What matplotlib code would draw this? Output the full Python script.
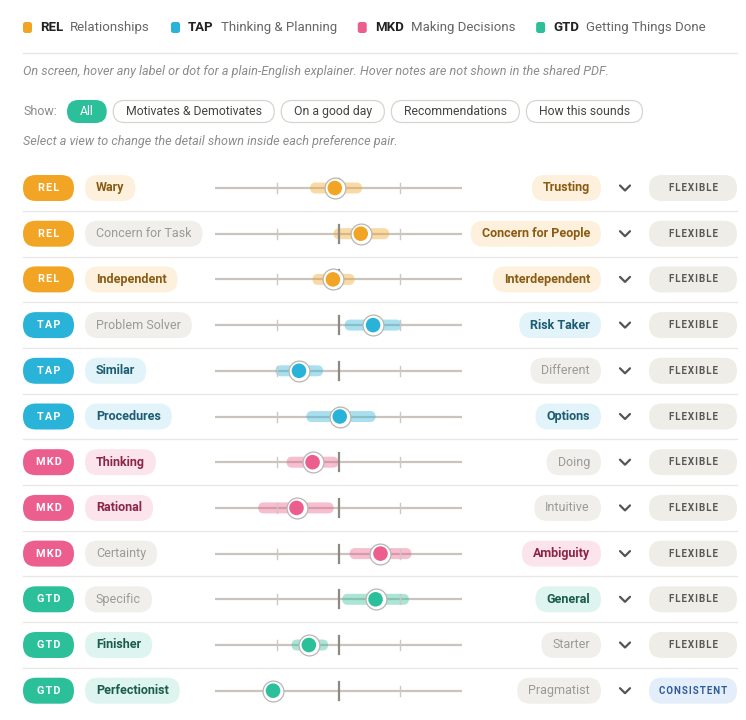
import matplotlib

matplotlib.use("Agg")
import matplotlib.pyplot as plt
from matplotlib.patches import FancyBboxPatch

plt.rcParams["font.family"] = ["Roboto", "DejaVu Sans"]

# --- data ------------------------------------------------------------------------------
group_codes = ["REL", "TAP", "MKD", "GTD"]
group_names = ["Relationships", "Thinking & Planning", "Making Decisions", "Getting Things Done"]
view_options = ["All", "Motivates & Demotivates", "On a good day", "Recommendations", "How this sounds"]

row_groups = ["REL", "REL", "REL", "TAP", "TAP", "TAP", "MKD", "MKD", "MKD", "GTD", "GTD", "GTD"]
left_labels = ["Wary", "Concern for Task", "Independent", "Problem Solver", "Similar", "Procedures",
               "Thinking", "Rational", "Certainty", "Specific", "Finisher", "Perfectionist"]
right_labels = ["Trusting", "Concern for People", "Interdependent", "Risk Taker", "Different", "Options",
                "Doing", "Intuitive", "Ambiguity", "General", "Starter", "Pragmatist"]
# position on the -1 (left pole) .. +1 (right pole) scale, and the flex range around it
scores = [-0.03, 0.18, -0.045, 0.28, -0.32, 0.01, -0.21, -0.34, 0.34, 0.30, -0.24, -0.53]
range_low = [-0.23, -0.04, -0.21, 0.05, -0.51, -0.26, -0.42, -0.65, 0.09, 0.03, -0.38, None]
range_high = [0.19, 0.41, 0.13, 0.51, -0.125, 0.30, 0.0, -0.04, 0.59, 0.57, -0.085, None]
styles = ["FLEXIBLE"] * 11 + ["CONSISTENT"]

# --- look ------------------------------------------------------------------------------
COL = {"REL": "#F2A424", "TAP": "#2AB3D8", "MKD": "#EC5E8D", "GTD": "#2CC09A"}
LIGHT = {"REL": "#FDF1DE", "TAP": "#E2F4FA", "MKD": "#FCE4EC", "GTD": "#DEF5EF"}
DARK = {"REL": "#8A5B12", "TAP": "#1D5C72", "MKD": "#8C2549", "GTD": "#1B5C4B"}
GREY_BG, GREY_TXT = "#F0EFEB", "#9C9A96"
LINE = "#E9E7E3"

W, H = 746, 720
fig = plt.figure(figsize=(W / 100, H / 100), dpi=100)
ax = fig.add_axes([0, 0, 1, 1])
ax.set_xlim(0, W)
ax.set_ylim(H, 0)
ax.axis("off")
renderer = fig.canvas.get_renderer()


def pill(x0, yc, w, h, fc, ec="none", lw=0, z=2):
    ax.add_patch(FancyBboxPatch((x0, yc - h / 2), w, h, boxstyle=f"round,pad=0,rounding_size={h / 2}",
                                fc=fc, ec=ec, lw=lw, zorder=z))


def text_w(t):
    return t.get_window_extent(renderer=renderer).width


def spaced(s):
    return "\u200a".join(s)


# header legend
x = 23
for code, name in zip(group_codes, group_names):
    ax.add_patch(FancyBboxPatch((x, 22), 9, 11, boxstyle="round,pad=0,rounding_size=2.5",
                                fc=COL[code], ec="none"))
    t = ax.text(x + 17, 27.5, code, fontsize=9.5, weight="bold", color="#222", va="center")
    x2 = x + 17 + text_w(t) + 7
    t = ax.text(x2, 27.5, name, fontsize=9.5, color="#666", va="center")
    x = x2 + text_w(t) + 21

ax.plot([23, 737], [53, 53], color=LINE, lw=1)
ax.text(23, 72, "On screen, hover any label or dot for a plain-English explainer. "
        "Hover notes are not shown in the shared PDF.", fontsize=9.1, style="italic",
        color="#8C8C8C", va="center")

# view selector
ax.text(23, 111.5, "Show:", fontsize=9, color="#8C8C8C", va="center")
x = 67
for i, opt in enumerate(view_options):
    t = ax.text(x + 13, 111.5, opt, fontsize=8.8, va="center", zorder=3,
                color="white" if i == 0 else "#444")
    w = text_w(t) + 26
    if i == 0:
        pill(x, 111.5, w, 23, COL["GTD"])
    else:
        pill(x + 0.5, 111.5, w - 1, 22, "white", ec="#D8D5CF", lw=0.9)
    x += w + 6
ax.text(23, 142, "Select a view to change the detail shown inside each preference pair.",
        fontsize=9.1, style="italic", color="#8C8C8C", va="center")

# preference rows
y0, dy = 188, 45.7
sx0, sx1 = 215, 462


def sx(v):
    return sx0 + (v + 1) / 2 * (sx1 - sx0)


for i in range(len(left_labels)):
    y = y0 + i * dy
    g = row_groups[i]
    if i > 0:
        ax.plot([23, 737], [y - dy / 2, y - dy / 2], color=LINE, lw=0.9, zorder=1)

    # group badge
    pill(23, y, 51, 26, COL[g])
    ax.text(48.5, y, spaced(g), fontsize=7.8, weight="bold", color="white", ha="center",
            va="center", zorder=3)

    lean_left = scores[i] < 0.1
    lean_right = scores[i] > -0.1

    # left pole
    t = ax.text(96, y, left_labels[i], fontsize=9, va="center", zorder=3,
                color=DARK[g] if lean_left else GREY_TXT,
                weight="semibold" if lean_left else "normal")
    pill(85, y, text_w(t) + 22, 26, LIGHT[g] if lean_left else GREY_BG)

    # right pole
    t = ax.text(590, y, right_labels[i], fontsize=9, va="center", ha="right", zorder=3,
                color=DARK[g] if lean_right else GREY_TXT,
                weight="semibold" if lean_right else "normal")
    w = text_w(t) + 22
    pill(601 - w, y, w, 26, LIGHT[g] if lean_right else GREY_BG)

    # slider
    ax.plot([sx0, sx1], [y, y], color="#C9C5BE", lw=1.6, zorder=2, solid_capstyle="butt")
    if range_low[i] is not None:
        lo, hi = sx(range_low[i]), sx(range_high[i])
        pill(lo, y, hi - lo, 11, COL[g] + "66", z=3)
    for q in (-0.5, 0.5):
        ax.plot([sx(q), sx(q)], [y - 5, y + 5], color="#CDC9C2", lw=1, zorder=4)
    ax.plot([sx(0), sx(0)], [y - 9, y + 9], color="#8E8A83", lw=1.6, zorder=4)
    ax.scatter([sx(scores[i])], [y], s=225, color="white", edgecolors="#B9B6B2", linewidths=0.9, zorder=5)
    ax.scatter([sx(scores[i])], [y], s=110, color=COL[g], edgecolors="none", zorder=6)

    # chevron
    ax.plot([620, 625, 630], [y - 2.5, y + 2.5, y - 2.5], color="#555", lw=1.6, zorder=3,
            solid_capstyle="round", solid_joinstyle="round")

    # style badge
    consistent = styles[i] == "CONSISTENT"
    pill(649, y, 88, 26, "#E4EEFA" if consistent else "#EFEDE8")
    ax.text(693, y, spaced(styles[i]), fontsize=7, weight="bold", ha="center", va="center", zorder=3,
            color="#2F5C99" if consistent else "#5A5855")

fig.savefig("out.png", dpi=100, facecolor="white")
